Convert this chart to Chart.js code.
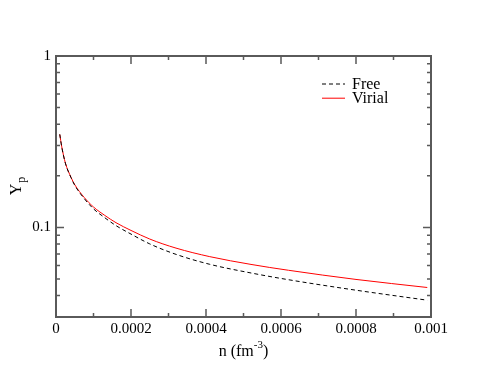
<!DOCTYPE html>
<html>
<head>
<meta charset="utf-8">
<script src="https://cdn.jsdelivr.net/npm/chart.js@4/dist/chart.umd.min.js"></script>
<style>
  html, body { margin: 0; padding: 0; background: #fff; }
  #wrap { width: 485px; height: 374px; }
</style>
</head>
<body>
<div id="wrap"><canvas id="yp"></canvas></div>
<script>
// density n (fm^-3)
const nValues = [0.00001, 0.000015, 0.000025, 0.00004, 0.00005, 0.000075, 0.0001, 0.00013, 0.00016,
                 0.0002, 0.00025, 0.00032, 0.00041, 0.00052, 0.00062, 0.0008, 0.00099];
const freeY   = [0.349, 0.2975, 0.2368, 0.1952, 0.1761, 0.1475, 0.1283, 0.1139, 0.1024,
                 0.0914, 0.0801, 0.0696, 0.0609, 0.0542, 0.0495, 0.0430, 0.0376];
const virialY = [0.349, 0.298, 0.2375, 0.196, 0.1775, 0.1497, 0.1315, 0.1175, 0.1065,
                 0.0960, 0.0855, 0.0757, 0.0675, 0.0608, 0.0562, 0.0497, 0.0446];
const seriesNames = ['Free', 'Virial'];
const yLabelled = [1, 0.1];

const serif = "'Liberation Serif', 'DejaVu Serif', serif";
const axisColor = '#5a5a5a';

const pts = ys => nValues.map((n, i) => ({ x: n, y: ys[i] }));

// inward ticks on all four sides plus the frame
const frameTicks = {
  id: 'frameTicks',
  afterDraw(chart) {
    const { ctx, chartArea: a, scales } = chart;
    const xs = scales.x, ys = scales.y;
    ctx.save();
    ctx.strokeStyle = axisColor;
    ctx.lineWidth = 2;
    ctx.strokeRect(a.left, a.top, a.right - a.left, a.bottom - a.top);
    ctx.lineWidth = 1.5;
    ctx.beginPath();
    for (let k = 0; k <= 10; k++) {
      const px = xs.getPixelForValue(k * 0.0001);
      const len = k % 2 === 0 ? 8 : 4;
      ctx.moveTo(px, a.bottom); ctx.lineTo(px, a.bottom - len);
      ctx.moveTo(px, a.top); ctx.lineTo(px, a.top + len);
    }
    for (const dec of [0.01, 0.1]) {
      for (let m = 1; m <= 9; m++) {
        const v = m * dec;
        if (v < ys.min - 1e-9 || v > ys.max + 1e-9) continue;
        const py = ys.getPixelForValue(v);
        const len = m === 1 ? 8 : 4;
        ctx.moveTo(a.left, py); ctx.lineTo(a.left + len, py);
        ctx.moveTo(a.right, py); ctx.lineTo(a.right - len, py);
      }
    }
    const p1 = ys.getPixelForValue(1);
    ctx.moveTo(a.left, p1); ctx.lineTo(a.left + 8, p1);
    ctx.moveTo(a.right, p1); ctx.lineTo(a.right - 8, p1);
    ctx.stroke();
    ctx.restore();
  }
};

// axis titles with sub/superscripts
const axisTitles = {
  id: 'axisTitles',
  afterDraw(chart) {
    const { ctx, chartArea: a } = chart;
    ctx.save();
    ctx.fillStyle = '#000';
    ctx.textBaseline = 'alphabetic';
    // x title: n (fm^-3)
    const big = '16px ' + serif, small = '11px ' + serif;
    ctx.font = big;
    const p1 = 'n (fm', p3 = ')';
    const w1 = ctx.measureText(p1).width, w3 = ctx.measureText(p3).width;
    ctx.font = small;
    const w2 = ctx.measureText('-3').width;
    let x = (a.left + a.right) / 2 - (w1 + w2 + w3) / 2;
    const base = a.bottom + 39;
    ctx.font = big; ctx.fillText(p1, x, base); x += w1;
    ctx.font = small; ctx.fillText('-3', x, base - 8); x += w2;
    ctx.font = big; ctx.fillText(p3, x, base);
    // y title: Y_p
    ctx.translate(a.left - 35, (a.top + a.bottom) / 2);
    ctx.rotate(-Math.PI / 2);
    ctx.font = big;
    const wy = ctx.measureText('Y').width;
    ctx.font = '12px ' + serif;
    const wp = ctx.measureText('p').width;
    const sx = -(wy + wp) / 2;
    ctx.font = big; ctx.fillText('Y', sx, 0);
    ctx.font = '12px ' + serif; ctx.fillText('p', sx + wy + 1, 4);
    ctx.restore();
  }
};

// legend inside the plot, upper right
const insideLegend = {
  id: 'insideLegend',
  afterDraw(chart) {
    const { ctx, chartArea: a } = chart;
    ctx.save();
    ctx.font = '16px ' + serif;
    ctx.textBaseline = 'middle';
    chart.data.datasets.forEach((ds, i) => {
      const y = a.top + 28 + i * 14.2;
      const x0 = a.right - 109;
      ctx.strokeStyle = ds.borderColor;
      ctx.lineWidth = 1;
      ctx.setLineDash(ds.borderDash || []);
      ctx.beginPath();
      ctx.moveTo(x0, y); ctx.lineTo(x0 + 23, y);
      ctx.stroke();
      ctx.setLineDash([]);
      ctx.fillStyle = '#000';
      ctx.fillText(ds.label, x0 + 30, y + 1);
    });
    ctx.restore();
  }
};

new Chart(document.getElementById('yp'), {
  type: 'line',
  data: {
    datasets: [
      {
        label: seriesNames[0],
        data: pts(freeY),
        borderColor: '#000000',
        borderWidth: 1,
        borderDash: [4, 3],
        pointRadius: 0,
        cubicInterpolationMode: 'monotone',
        fill: false
      },
      {
        label: seriesNames[1],
        data: pts(virialY),
        borderColor: '#ff0000',
        borderWidth: 1,
        pointRadius: 0,
        cubicInterpolationMode: 'monotone',
        fill: false
      }
    ]
  },
  options: {
    responsive: true,
    maintainAspectRatio: false,
    animation: false,
    layout: { padding: { left: 0, top: 56, right: 54, bottom: 0 } },
    plugins: {
      legend: { display: false },
      tooltip: { enabled: false }
    },
    scales: {
      x: {
        type: 'linear',
        min: 0,
        max: 0.001,
        grid: { display: false, drawTicks: false },
        border: { display: false },
        ticks: {
          stepSize: 0.0002,
          padding: 3,
          maxRotation: 0,
          color: '#000',
          font: { family: serif, size: 15 },
          callback: v => String(parseFloat(v.toFixed(6)))
        },
        afterFit: s => { s.height = 57; }
      },
      y: {
        type: 'logarithmic',
        min: 0.03,
        max: 1,
        grid: { display: false, drawTicks: false },
        border: { display: false },
        ticks: {
          padding: 5,
          autoSkip: false,
          color: '#000',
          font: { family: serif, size: 15 },
          callback: v => {
            const hit = yLabelled.find(t => Math.abs(Math.log10(v) - Math.log10(t)) < 1e-6);
            return hit === undefined ? null : String(hit);
          }
        },
        afterFit: s => { s.width = 56; }
      }
    }
  },
  plugins: [frameTicks, axisTitles, insideLegend]
});
</script>
</body>
</html>
